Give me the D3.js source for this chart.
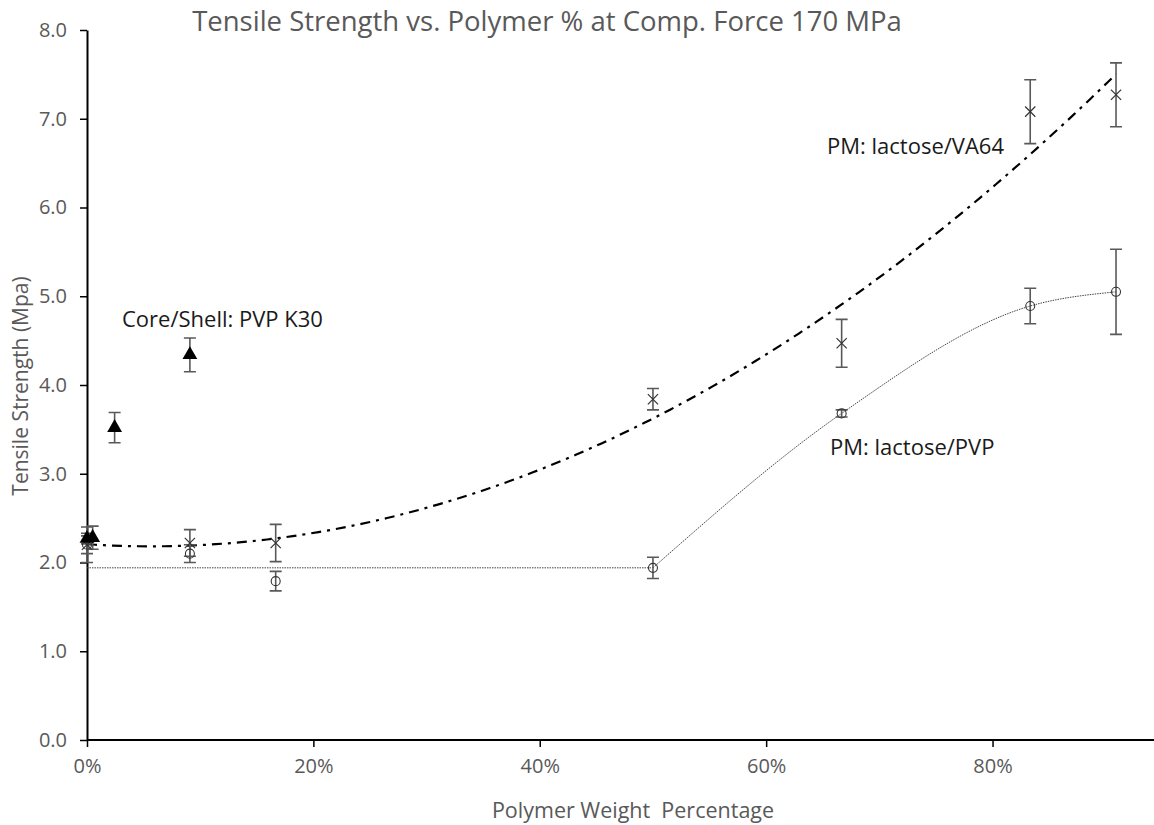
<!DOCTYPE html>
<html>
<head>
<meta charset="utf-8">
<script src="https://cdn.jsdelivr.net/npm/d3@7"></script>
<style>
  body { margin: 0; background: #fff; }
  svg { display: block; font-family: "Open Sans", "Noto Sans", sans-serif; }
</style>
</head>
<body>
<svg id="chart" width="1154" height="825"></svg>
<script>
(function () {
    'use strict';

    // polymer weight fraction for each sample
    var coreX = [0, 0.005, 0.0244, 0.0909];
    var coreY = [2.27, 2.28, 3.52, 4.34];
    var coreErr = [0.06, 0.13, 0.17, 0.19];

    var va64X = [0, 0.0909, 0.1667, 0.5, 0.6667, 0.8333, 0.9091];
    var va64Y = [2.20, 2.22, 2.22, 3.84, 4.47, 7.08, 7.27];
    var va64Err = [0.20, 0.15, 0.21, 0.12, 0.27, 0.36, 0.36];

    var pvpX = [0, 0.0909, 0.1667, 0.5, 0.6667, 0.8333, 0.9091];
    var pvpY = [2.20, 2.10, 1.79, 1.94, 3.68, 4.89, 5.05];
    var pvpErr = [0.10, 0.10, 0.11, 0.12, 0.04, 0.20, 0.48];

    // smoothed guide line for the PVP mixture
    var pvpLineX = [0, 0.5, 0.6667, 0.8333, 0.9091];
    var pvpLineY = [1.94, 1.94, 3.68, 4.89, 5.05];

    var xTicks = [0, 0.2, 0.4, 0.6, 0.8];
    var yTicks = [0, 1, 2, 3, 4, 5, 6, 7, 8];

    var svg = d3.select('#chart');
    var grey = '#595959';

    var x = d3.scaleLinear().domain([0, 0.94]).range([87, 1151]);
    var y = d3.scaleLinear().domain([0, 8]).range([740, 30]);

    function zip(xs, ys, es) {
        return xs.map(function (v, i) {
            return { x: v, y: ys[i], e: es ? es[i] : 0 };
        });
    }

    var core = zip(coreX, coreY, coreErr);
    var va64 = zip(va64X, va64Y, va64Err);
    var pvp = zip(pvpX, pvpY, pvpErr);
    var pvpLine = zip(pvpLineX, pvpLineY);

    // least squares quadratic (Excel style polynomial trendline)
    function polyFit2(pts) {
        var s = [0, 0, 0, 0, 0], t = [0, 0, 0];
        pts.forEach(function (p) {
            for (var k = 0; k < 5; k++) s[k] += Math.pow(p.x, k);
            for (var j = 0; j < 3; j++) t[j] += Math.pow(p.x, j) * p.y;
        });
        var m = [[s[0], s[1], s[2], t[0]], [s[1], s[2], s[3], t[1]], [s[2], s[3], s[4], t[2]]];
        for (var i = 0; i < 3; i++) {
            for (var r = i + 1; r < 3; r++) {
                var f = m[r][i] / m[i][i];
                for (var c = i; c < 4; c++) m[r][c] -= f * m[i][c];
            }
        }
        var co = [0, 0, 0];
        for (var i2 = 2; i2 >= 0; i2--) {
            var v = m[i2][3];
            for (var c2 = i2 + 1; c2 < 3; c2++) v -= m[i2][c2] * co[c2];
            co[i2] = v / m[i2][i2];
        }
        return function (xv) { return co[0] + co[1] * xv + co[2] * xv * xv; };
    }

    var trend = polyFit2(va64);
    var trendPts = d3.range(0, 0.9091 + 1e-9, 0.9091 / 120).map(function (v) {
        return { x: v, y: trend(v) };
    });

    // axes
    var xAxis = d3.axisBottom(x).tickValues(xTicks).tickFormat(d3.format('.0%'))
        .tickSize(7).tickSizeOuter(0).tickPadding(12);
    var yAxis = d3.axisLeft(y).tickValues(yTicks).tickFormat(d3.format('.1f'))
        .tickSize(7).tickSizeOuter(0).tickPadding(13);

    var gx = svg.append('g').attr('transform', 'translate(0,' + y(0) + ')').call(xAxis);
    gx.select('.domain').attr('d', 'M' + x(0) + ',0H1154');
    var gy = svg.append('g').attr('transform', 'translate(' + x(0) + ',0)').call(yAxis);

    [gx, gy].forEach(function (g) {
        g.attr('font-size', 20);
        g.select('.domain').attr('stroke', '#000').attr('stroke-width', 2);
        g.selectAll('.tick line').attr('stroke', '#000').attr('stroke-width', 1.5);
        g.selectAll('.tick text').attr('fill', grey).style('font-size', '20px')
            .style('font-family', '"Open Sans", sans-serif');
    });

    // lines
    var line = d3.line().x(function (d) { return x(d.x); }).y(function (d) { return y(d.y); });

    svg.append('path').datum(pvpLine.slice(0, 2))
        .attr('d', line.curve(d3.curveLinear))
        .attr('fill', 'none').attr('stroke', '#444').attr('stroke-width', 1)
        .attr('stroke-dasharray', '1.5,1');
    svg.append('path').datum(pvpLine.slice(1))
        .attr('d', line.curve(d3.curveMonotoneX))
        .attr('fill', 'none').attr('stroke', '#444').attr('stroke-width', 1)
        .attr('stroke-dasharray', '1.5,1');

    svg.append('path').datum(trendPts)
        .attr('d', line.curve(d3.curveLinear))
        .attr('fill', 'none').attr('stroke', '#000').attr('stroke-width', 2.2)
        .attr('stroke-dasharray', '10,6,3,6');

    // error bars
    function errorBars(data) {
        var g = svg.append('g').attr('stroke', grey).attr('stroke-width', 1.6).attr('fill', 'none');
        data.forEach(function (d) {
            var cx = x(d.x), top = y(d.y + d.e), bot = y(d.y - d.e);
            g.append('path').attr('d',
                'M' + cx + ',' + top + 'V' + bot +
                'M' + (cx - 6) + ',' + top + 'H' + (cx + 6) +
                'M' + (cx - 6) + ',' + bot + 'H' + (cx + 6));
        });
    }
    errorBars(pvp);
    errorBars(va64);
    errorBars(core);

    // markers
    svg.append('g').selectAll('circle').data(pvp).join('circle')
        .attr('cx', function (d) { return x(d.x); })
        .attr('cy', function (d) { return y(d.y); })
        .attr('r', 4.5)
        .attr('fill', 'none').attr('stroke', '#333').attr('stroke-width', 1.1);

    var timesSym = d3.symbolTimes || d3.symbolCross;
    svg.append('g').selectAll('path').data(va64).join('path')
        .attr('transform', function (d) { return 'translate(' + x(d.x) + ',' + y(d.y) + ')'; })
        .attr('d', d3.symbol(timesSym, 70))
        .attr('fill', 'none').attr('stroke', '#333').attr('stroke-width', 1.2);

    svg.append('g').selectAll('path').data(core).join('path')
        .attr('transform', function (d) { return 'translate(' + x(d.x) + ',' + y(d.y) + ')'; })
        .attr('d', d3.symbol(d3.symbolTriangle, 95))
        .attr('fill', '#000');

    // text
    svg.append('text').attr('x', 547).attr('y', 31).attr('text-anchor', 'middle')
        .attr('fill', grey).style('font-size', '27.5px')
        .text('Tensile Strength vs. Polymer % at Comp. Force 170 MPa');

    svg.append('text').attr('transform', 'translate(28,386) rotate(-90)')
        .attr('text-anchor', 'middle').attr('fill', grey).style('font-size', '21px')
        .text('Tensile Strength (Mpa)');

    svg.append('text').attr('x', 633).attr('y', 818).attr('text-anchor', 'middle')
        .attr('fill', grey).style('font-size', '21.5px').attr('xml:space', 'preserve')
        .text('Polymer Weight  Percentage');

    var notes = [
        { t: 'Core/Shell: PVP K30', x: 122, y: 327 },
        { t: 'PM: lactose/VA64', x: 827, y: 154 },
        { t: 'PM: lactose/PVP', x: 830, y: 455 }
    ];
    svg.append('g').selectAll('text').data(notes).join('text')
        .attr('x', function (d) { return d.x; })
        .attr('y', function (d) { return d.y; })
        .attr('fill', '#1a1a1a').style('font-size', '22px')
        .text(function (d) { return d.t; });
})();
</script>
</body>
</html>
